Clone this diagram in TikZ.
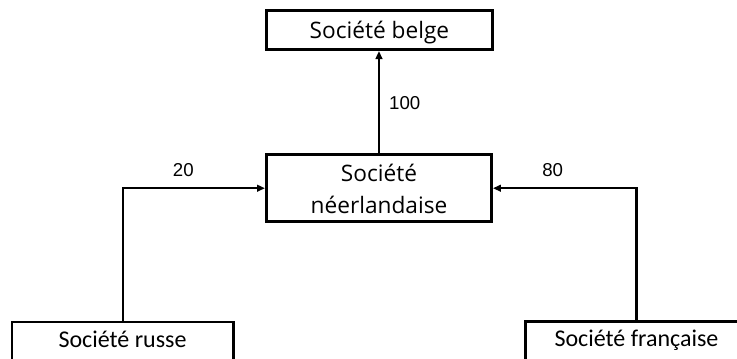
\documentclass[tikz,border=0pt]{standalone}
\usepackage{fontspec}
\newfontfamily\fontA{Open Sans}
\newfontfamily\fontB{Carlito}
\newfontfamily\fontC{Liberation Sans}
\usetikzlibrary{arrows.meta}
\tikzset{
  boxA/.style={draw=black, line width=2.2pt, inner sep=0pt, anchor=north west,
     font=\fontA\fontsize{17}{23.8}\selectfont, align=center},
  boxB/.style={draw=black, line width=2.2pt, inner sep=0pt, anchor=north west,
     font=\fontB\fontsize{18}{22}\selectfont, text height=19.1pt, text depth=12pt},
  conn/.style={line width=1.6pt, -{Triangle[length=6pt,width=5pt]}},
  numlabel/.style={anchor=base, inner sep=0pt, font=\fontC\fontsize{14}{16}\selectfont}
}
\begin{document}
\begin{tikzpicture}[x=0.75pt,y=-0.75pt]
\useasboundingbox (0,0) rectangle (737,358);
\clip (0,0) rectangle (737,358);
\node[boxA, minimum width=169.5pt, text height=20.8pt, text depth=8.5pt] (belge) at (265,9) {Société belge};
\node[boxA, minimum width=168.75pt, text height=44pt, text depth=6.6pt] (neer) at (265,153) {Société\\néerlandaise};
\node[boxB, minimum width=165.9pt] (russe) at (10.5,320.5) {Société russe};
\node[boxB, minimum width=166.5pt] (fr) at (524,320) {Société française};
\draw[conn] (neer.north) -- (neer.north |- belge.south);
\draw[conn] (russe.north) |- (neer.west);
\draw[conn] (fr.north) |- (neer.east);
\node[numlabel] (l100) at (404.7,109) {100};
\node[numlabel] (l20) at (183.3,176.5) {20};
\node[numlabel] (l80) at (552.7,176.5) {80};
\end{tikzpicture}
\end{document}
